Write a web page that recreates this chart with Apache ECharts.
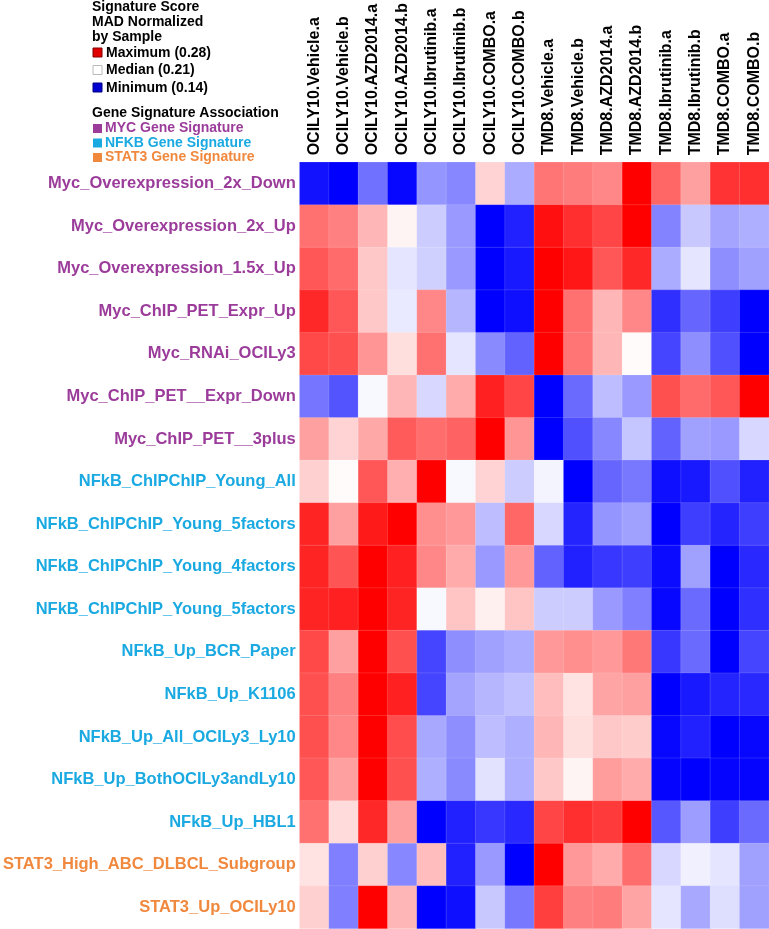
<!DOCTYPE html>
<html>
<head>
<meta charset="utf-8">
<script src="https://cdn.jsdelivr.net/npm/echarts@6/dist/echarts.min.js"></script>
<style>
html,body{margin:0;padding:0;background:#fff;}
#chart{width:769px;height:929px;}
</style>
</head>
<body>
<div id="chart"></div>
<script>
// Columns (samples)
var samples = ['OCILY10.Vehicle.a','OCILY10.Vehicle.b','OCILY10.AZD2014.a','OCILY10.AZD2014.b',
  'OCILY10.Ibrutinib.a','OCILY10.Ibrutinib.b','OCILY10.COMBO.a','OCILY10.COMBO.b',
  'TMD8.Vehicle.a','TMD8.Vehicle.b','TMD8.AZD2014.a','TMD8.AZD2014.b',
  'TMD8.Ibrutinib.a','TMD8.Ibrutinib.b','TMD8.COMBO.a','TMD8.COMBO.b'];

// Rows (gene signatures) and their group
var signatures = ['Myc_Overexpression_2x_Down','Myc_Overexpression_2x_Up','Myc_Overexpression_1.5x_Up',
  'Myc_ChIP_PET_Expr_Up','Myc_RNAi_OCILy3','Myc_ChIP_PET__Expr_Down','Myc_ChIP_PET__3plus',
  'NFkB_ChIPChIP_Young_All','NFkB_ChIPChIP_Young_5factors','NFkB_ChIPChIP_Young_4factors',
  'NFkB_ChIPChIP_Young_5factors','NFkB_Up_BCR_Paper','NFkB_Up_K1106','NFkB_Up_All_OCILy3_Ly10',
  'NFkB_Up_BothOCILy3andLy10','NFkB_Up_HBL1','STAT3_High_ABC_DLBCL_Subgroup','STAT3_Up_OCILy10'];
var signatureGroup = ['MYC','MYC','MYC','MYC','MYC','MYC','MYC',
  'NFKB','NFKB','NFKB','NFKB','NFKB','NFKB','NFKB','NFKB','NFKB','STAT3','STAT3'];

// Scale values (legend)
var scaleMin = 0.14, scaleMedian = 0.21, scaleMax = 0.28;

// Signature scores, one row per signature, one value per sample
var mycScores = [
  [0.145,0.140,0.171,0.142,0.181,0.177,0.222,0.187,0.248,0.246,0.243,0.280,0.252,0.236,0.266,0.267],
  [0.249,0.245,0.230,0.213,0.196,0.182,0.140,0.149,0.276,0.267,0.261,0.280,0.176,0.195,0.185,0.188],
  [0.256,0.251,0.225,0.203,0.197,0.182,0.140,0.147,0.280,0.274,0.256,0.269,0.187,0.203,0.179,0.184],
  [0.269,0.256,0.225,0.204,0.243,0.190,0.140,0.144,0.280,0.249,0.230,0.243,0.153,0.168,0.157,0.140],
  [0.260,0.258,0.239,0.219,0.249,0.203,0.178,0.167,0.280,0.248,0.230,0.211,0.159,0.179,0.162,0.140],
  [0.172,0.163,0.208,0.230,0.199,0.233,0.271,0.261,0.140,0.169,0.192,0.182,0.258,0.251,0.256,0.280],
  [0.236,0.222,0.234,0.255,0.250,0.253,0.280,0.239,0.140,0.162,0.177,0.194,0.167,0.184,0.182,0.199]
];
var nfkbScores = [
  [0.223,0.211,0.256,0.232,0.280,0.208,0.222,0.196,0.207,0.140,0.168,0.173,0.144,0.147,0.162,0.149],
  [0.270,0.236,0.273,0.280,0.241,0.238,0.192,0.252,0.199,0.150,0.181,0.184,0.140,0.157,0.150,0.157],
  [0.270,0.257,0.280,0.271,0.243,0.233,0.182,0.238,0.167,0.149,0.155,0.157,0.143,0.184,0.140,0.151],
  [0.270,0.271,0.280,0.270,0.208,0.226,0.214,0.226,0.196,0.196,0.182,0.175,0.142,0.169,0.140,0.153],
  [0.260,0.236,0.280,0.258,0.159,0.179,0.184,0.187,0.238,0.241,0.238,0.247,0.155,0.169,0.140,0.159],
  [0.258,0.245,0.280,0.271,0.159,0.185,0.190,0.193,0.228,0.218,0.235,0.236,0.140,0.147,0.150,0.151],
  [0.258,0.243,0.280,0.259,0.186,0.179,0.192,0.188,0.230,0.219,0.225,0.224,0.142,0.149,0.140,0.142],
  [0.256,0.236,0.280,0.258,0.188,0.178,0.202,0.188,0.225,0.213,0.237,0.233,0.141,0.140,0.141,0.141],
  [0.249,0.220,0.269,0.236,0.140,0.149,0.155,0.151,0.261,0.267,0.264,0.280,0.164,0.183,0.157,0.169]
];
var stat3Scores = [
  [0.218,0.175,0.223,0.177,0.228,0.149,0.182,0.140,0.280,0.238,0.233,0.250,0.199,0.206,0.203,0.184],
  [0.223,0.175,0.280,0.230,0.140,0.144,0.195,0.173,0.263,0.245,0.246,0.235,0.203,0.186,0.201,0.184]
];

var groupColors = {MYC:'#9B3C9B', NFKB:'#1AA9E1', STAT3:'#F0883E'};

var allRows = mycScores.concat(nfkbScores, stat3Scores);
var heatData = [];
allRows.forEach(function(row, r){
  row.forEach(function(v, c){ heatData.push([c, r, v]); });
});

var FONT = '"Liberation Sans", Arial, Helvetica, sans-serif';
var chart = echarts.init(document.getElementById('chart'), null, {renderer:'canvas'});

function legendText(txt, x, y, color){
  return {type:'text', x:x, y:y, style:{text:txt, fill:color||'#000', fontFamily:FONT,
    fontWeight:'bold', fontSize:14, verticalAlign:'middle', textVerticalAlign:'middle', align:'left'}};
}
function legendBox(x, y, fill, stroke){
  return {type:'rect', shape:{x:x, y:y, width:9, height:9}, style:{fill:fill, stroke:stroke||null, lineWidth:1}};
}

chart.setOption({
  animation:false,
  backgroundColor:'#fff',
  grid:{left:298.3, right:0, top:162.3, bottom:0.4},
  xAxis:{
    type:'category', position:'top', data:samples,
    axisLine:{show:false}, axisTick:{show:false}, splitLine:{show:false},
    axisLabel:{rotate:-90, margin:7, interval:0, color:'#000', fontFamily:FONT, fontWeight:'bold', fontSize:16}
  },
  yAxis:{
    type:'category', inverse:true, data:signatures,
    axisLine:{show:false}, axisTick:{show:false}, splitLine:{show:false},
    axisLabel:{margin:4, interval:0, fontFamily:FONT, fontWeight:'bold', fontSize:16.5,
      color:function(v, i){ return groupColors[signatureGroup[i]]; }}
  },
  visualMap:{
    show:false, type:'continuous', min:scaleMin, max:scaleMax, dimension:2,
    inRange:{color:['#0000ff','#ffffff','#ff0000']}
  },
  series:[{
    type:'heatmap', data:heatData,
    itemStyle:{borderColor:'rgba(255,255,255,0.25)', borderWidth:0.5},
    emphasis:{disabled:true}
  }],
  graphic:[
    legendText('Signature Score', 92, 7),
    legendText('MAD Normalized', 92, 22),
    legendText('by Sample', 92, 37),
    legendBox(93, 48, '#e00000', '#800000'),
    legendText('Maximum (' + scaleMax.toFixed(2) + ')', 106, 53),
    legendBox(93, 65.5, '#ffffff', '#bbbbbb'),
    legendText('Median (' + scaleMedian.toFixed(2) + ')', 106, 70),
    legendBox(93, 83, '#0000d0', '#000080'),
    legendText('Minimum (' + scaleMin.toFixed(2) + ')', 106, 88),
    legendText('Gene Signature Association', 92, 113),
    legendBox(93, 124, groupColors.MYC),
    legendText('MYC Gene Signature', 105, 128.5, groupColors.MYC),
    legendBox(93, 138.5, groupColors.NFKB),
    legendText('NFKB Gene Signature', 105, 143, groupColors.NFKB),
    legendBox(93, 153, groupColors.STAT3),
    legendText('STAT3 Gene Signature', 105, 157.5, groupColors.STAT3)
  ]
});
</script>
</body>
</html>
